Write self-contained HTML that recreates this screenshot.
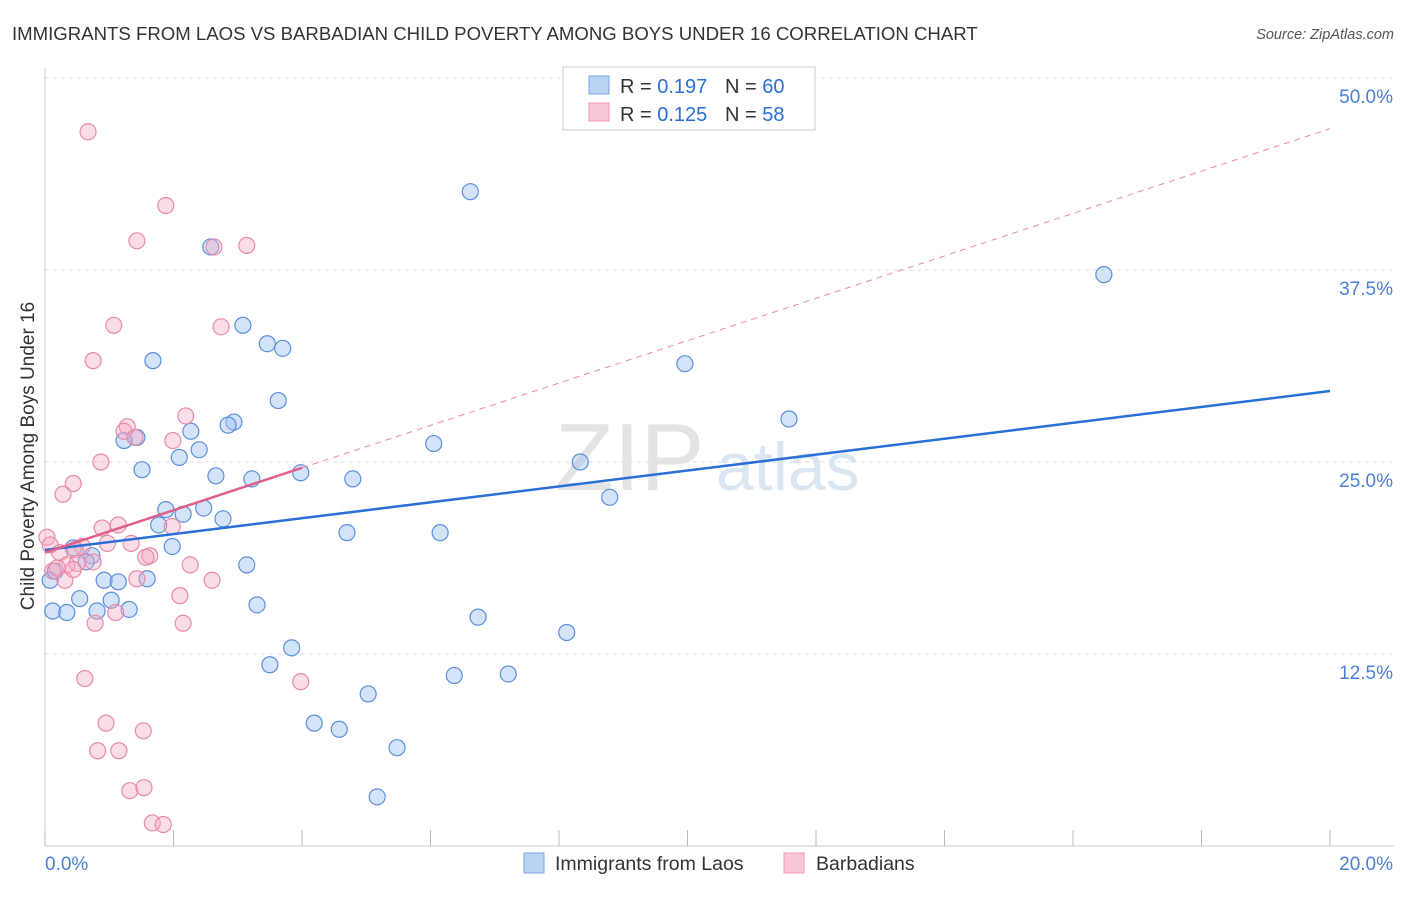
<!DOCTYPE html>
<html><head><meta charset="utf-8"><style>
body{margin:0;background:#fff;font-family:"Liberation Sans",sans-serif}
svg text{font-family:"Liberation Sans",sans-serif}
</style></head><body>
<svg id="c" width="1406" height="892">
<text x="12" y="40" font-size="18.6" fill="#333">IMMIGRANTS FROM LAOS VS BARBADIAN CHILD POVERTY AMONG BOYS UNDER 16 CORRELATION CHART</text>
<text x="1394" y="39" font-size="14.5" fill="#555" font-style="italic" text-anchor="end">Source: ZipAtlas.com</text>
<text x="34" y="456" font-size="19" fill="#333" text-anchor="middle" transform="rotate(-90 34 456)">Child Poverty Among Boys Under 16</text>
<text x="555" y="490" font-size="96" fill="#e4e4e4" font-family="Liberation Serif">ZIP</text>
<text x="716" y="490" font-size="68" fill="#dbe6f3">atlas</text>
<g id="grid"></g><g id="pts"></g><g id="lines"></g>
<g>
<rect x="563" y="67" width="252" height="63" fill="#fff" stroke="#ccc"/>
<rect x="589" y="76" width="20" height="18" fill="#b9d3f3" stroke="#7aa6e0"/>
<rect x="589" y="103" width="20" height="18" fill="#f9c8d7" stroke="#ec9ab4"/>
<text x="620" y="93" font-size="20" fill="#333">R = <tspan fill="#2a6fd6">0.197</tspan></text>
<text x="725" y="93" font-size="20" fill="#333">N = <tspan fill="#2a6fd6">60</tspan></text>
<text x="620" y="121" font-size="20" fill="#333">R = <tspan fill="#2a6fd6">0.125</tspan></text>
<text x="725" y="121" font-size="20" fill="#333">N = <tspan fill="#2a6fd6">58</tspan></text>
</g>
<g>
<rect x="524" y="853" width="20" height="20" fill="#b9d3f3" stroke="#7aa6e0"/>
<text x="555" y="870" font-size="19.5" fill="#333">Immigrants from Laos</text>
<rect x="784" y="853" width="20" height="20" fill="#f9c8d7" stroke="#ec9ab4"/>
<text x="816" y="870" font-size="19.5" fill="#333">Barbadians</text>
</g>
</svg>
<script>
const yTicks=[12.5,25,37.5,50];
const yLabels=["12.5%","25.0%","37.5%","50.0%"];
const xLabels=["0.0%","20.0%"];
const blueX=[6.62,16.48,2.58,3.08,3.46,3.70,1.68,9.96,3.63,11.58,2.94,2.85,2.27,1.43,1.23,6.05,2.40,2.09,8.33,1.51,2.66,3.22,4.79,3.98,8.79,1.88,2.47,2.15,2.77,1.77,4.70,6.15,1.98,0.44,0.73,0.64,3.14,0.92,1.14,1.59,0.54,1.03,3.30,0.12,0.34,0.81,1.31,6.74,8.12,3.84,3.50,6.37,7.21,5.03,4.19,4.58,5.48,5.17,0.08,0.16];
const blueY=[42.6,37.2,39.0,33.9,32.7,32.4,31.6,31.4,29.0,27.8,27.6,27.4,27.0,26.6,26.4,26.2,25.8,25.3,25.0,24.5,24.1,23.9,23.9,24.3,22.7,21.9,22.0,21.6,21.3,20.9,20.4,20.4,19.5,19.4,18.9,18.5,18.3,17.3,17.2,17.4,16.1,16.0,15.7,15.3,15.2,15.3,15.4,14.9,13.9,12.9,11.8,11.1,11.2,9.9,8.0,7.6,6.4,3.2,17.3,17.9];
const pinkX=[0.67,1.88,1.43,3.14,2.63,1.07,2.74,0.75,2.19,1.28,1.23,1.40,1.99,0.87,0.44,0.28,1.14,0.89,1.98,0.03,1.34,0.97,0.58,0.47,0.23,1.63,1.57,0.75,0.50,0.34,2.26,0.12,0.19,1.43,0.31,2.60,2.10,1.10,0.78,2.15,0.62,3.98,0.95,1.53,0.82,1.15,1.32,1.54,1.67,1.84,0.08,0.44];
const pinkY=[46.5,41.7,39.4,39.1,39.0,33.9,33.8,31.6,28.0,27.3,27.0,26.6,26.4,25.0,23.6,22.9,20.9,20.7,20.8,20.1,19.7,19.7,19.5,19.3,19.1,18.9,18.8,18.5,18.4,18.3,18.3,17.9,18.1,17.4,17.3,17.3,16.3,15.2,14.5,14.5,10.9,10.7,8.0,7.5,6.2,6.2,3.6,3.8,1.5,1.4,19.6,18.0];
// regression [intercept %, slope per %]
const blueTrend=[19.27,0.5175];
const pinkTrend=[19.1,1.38];
const X=v=>45+v*64.25, Y=v=>846-v*15.36;
const NS="http://www.w3.org/2000/svg";
function mk(t,a,p){const e=document.createElementNS(NS,t);for(const k in a)e.setAttribute(k,a[k]);p.appendChild(e);return e;}
const g=document.getElementById('grid');
mk('line',{x1:45,y1:68,x2:45,y2:846,stroke:'#ccc'},g);
mk('line',{x1:45,y1:846,x2:1394,y2:846,stroke:'#ccc'},g);
for(let i=0;i<=10;i++){mk('line',{x1:X(i*2),y1:846,x2:X(i*2),y2:830,stroke:'#bbb'},g);}
yTicks.forEach((t,i)=>{
 const l=mk('line',{x1:45,y1:Y(t),x2:1394,y2:Y(t),stroke:'#ddd','stroke-dasharray':'4,4'},g);
 
 
 const tx=mk('text',{x:1393,y:Y(t)+25,'font-size':19,fill:'#4a7fd4','text-anchor':'end'},g);tx.textContent=yLabels[i];
 
 
});
const x0=mk('text',{x:45,y:870,'font-size':19,fill:'#4a7fd4'},g);x0.textContent=xLabels[0];


const x1=mk('text',{x:1393,y:870,'font-size':19,fill:'#4a7fd4','text-anchor':'end'},g);x1.textContent=xLabels[1];


const p=document.getElementById('pts');
blueX.forEach((v,i)=>{const c=mk('circle',{cx:X(v),cy:Y(blueY[i]),r:8,fill:'rgba(160,195,240,0.45)',stroke:'#5b8fdc','stroke-width':1.2},p);
 
 });
pinkX.forEach((v,i)=>{const c=mk('circle',{cx:X(v),cy:Y(pinkY[i]),r:8,fill:'rgba(245,170,195,0.4)',stroke:'#e88aa8','stroke-width':1.2},p);
 
 });
const L=document.getElementById('lines');
const bf=x=>blueTrend[0]+blueTrend[1]*x, pf=x=>pinkTrend[0]+pinkTrend[1]*x;
const bl=mk('line',{x1:X(0),y1:Y(bf(0)),x2:X(20),y2:Y(bf(20)),stroke:'#2a6fd6','stroke-width':2.5},L);


const pd=mk('line',{x1:X(4),y1:Y(pf(4)),x2:X(20),y2:Y(pf(20)),stroke:'#e88aa8','stroke-width':1,'stroke-dasharray':'6,5'},L);


const pl=mk('line',{x1:X(0),y1:Y(pf(0)),x2:X(4),y2:Y(pf(4)),stroke:'#e0608a','stroke-width':2.5},L);


</script>
</body></html>
